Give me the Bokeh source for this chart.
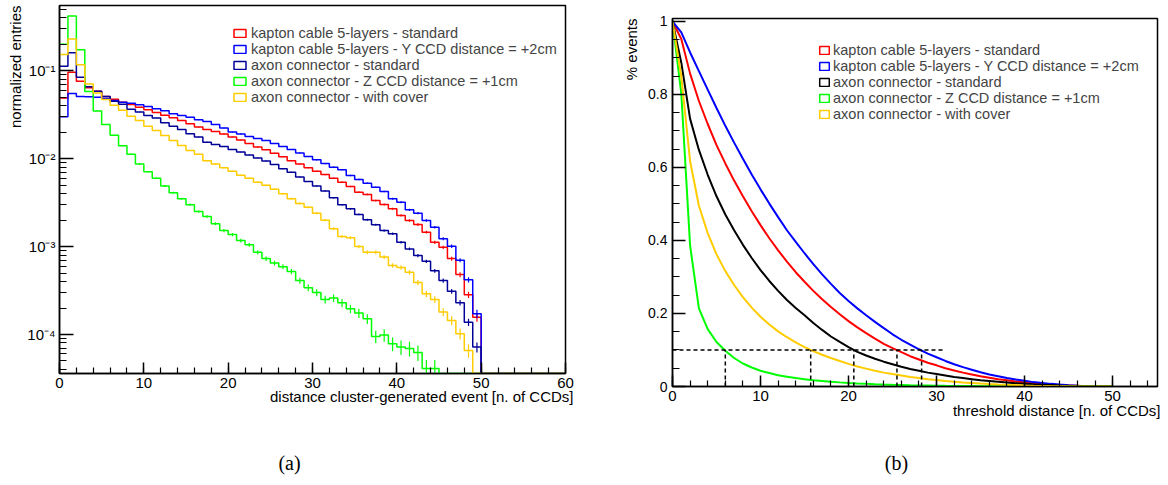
import math
from bokeh.plotting import figure
from bokeh.models import (Range1d, FixedTicker, CustomJSTickFormatter, Label, Title,
                          Legend, LegendItem)
from bokeh.layouts import row, column
from bokeh.embed import file_html
from bokeh.resources import INLINE

SANS = "Liberation Sans"
SERIF = "Liberation Serif"

# ---------------- data ----------------
series_labels = ["kapton cable 5-layers - standard",
                 "kapton cable 5-layers - Y CCD distance = +2cm",
                 "axon connector - standard",
                 "axon connector - Z CCD distance = +1cm",
                 "axon connector - with cover"]
colors_a = ["#ff0000", "#0000ff", "#000099", "#00ff00", "#ffcc00"]
colors_b = ["#ff0000", "#0000ff", "#000000", "#00ff00", "#ffcc00"]

n_bins = 60  # bins of width 1 from 0 to 60 (n. of CCDs)

hist_kapton_std = [
    0.049, 0.096, 0.076, 0.064, 0.0586, 0.051, 0.0475, 0.044, 0.0414, 0.0385,
    0.036, 0.0336, 0.0313, 0.0292, 0.0272, 0.025, 0.0229, 0.0215, 0.0204, 0.0191,
    0.0177, 0.0163, 0.0149, 0.0136, 0.0126, 0.0115, 0.0105, 0.0095, 0.0087, 0.0079,
    0.0072, 0.0066, 0.0060, 0.0054, 0.00483, 0.00416, 0.00392, 0.00334, 0.00301, 0.00269,
    0.00226, 0.00198, 0.00178, 0.00146, 0.00112, 0.00098, 0.00073, 0.00048, 0.000283, 0.000157]
hist_kapton_y2cm = [
    0.030, 0.055, 0.051, 0.0506, 0.050, 0.0484, 0.046, 0.044, 0.0428, 0.041,
    0.0392, 0.037, 0.0351, 0.0324, 0.031, 0.0296, 0.0277, 0.0265, 0.0245, 0.0223,
    0.0201, 0.0191, 0.0179, 0.0170, 0.0161, 0.0149, 0.0138, 0.0127, 0.0116, 0.0106,
    0.0097, 0.0088, 0.0080, 0.0075, 0.00644, 0.00580, 0.00526, 0.00474, 0.00424, 0.00350,
    0.00320, 0.00262, 0.00240, 0.00198, 0.00166, 0.00123, 0.00101, 0.00070, 0.00042, 0.000172]
hist_axon_std = [
    0.113, 0.16, 0.0846, 0.066, 0.0586, 0.051, 0.045, 0.0417, 0.0366, 0.0339,
    0.031, 0.029, 0.0256, 0.0234, 0.0215, 0.0192, 0.0176, 0.0154, 0.0145, 0.0138,
    0.0127, 0.0119, 0.0110, 0.0102, 0.0094, 0.0086, 0.0077, 0.0070, 0.0062, 0.0055,
    0.0049, 0.0043, 0.0036, 0.0030, 0.00269, 0.00232, 0.00202, 0.00177, 0.00152, 0.00140,
    0.00112, 0.00094, 0.00079, 0.00068, 0.00053, 0.00041, 0.00031, 0.00023, 0.000138, 0.0000718]
hist_axon_z1cm = [
    0.20, 0.42, 0.174, 0.058, 0.035, 0.0245, 0.0185, 0.014, 0.0112, 0.0087,
    0.0071, 0.006, 0.0049, 0.0041, 0.0035, 0.003, 0.0025, 0.0022, 0.00182, 0.00152,
    0.00137, 0.00117, 0.00105, 0.00086, 0.00073, 0.00065, 0.00059, 0.00052, 0.00041, 0.00034,
    0.00030, 0.00025, 0.00026, 0.00023, 0.000196, 0.000175, 0.000151, 0.0000948, 0.0000986, 0.0000783,
    0.0000718, 0.0000694, 0.0000624, 0.000041, 0.000041]
hist_axon_cover = [
    0.153, 0.23, 0.117, 0.071, 0.056, 0.047, 0.0406, 0.0355, 0.0305, 0.0272,
    0.0234, 0.0209, 0.0184, 0.0161, 0.0141, 0.0124, 0.0112, 0.0095, 0.0087, 0.0079,
    0.0072, 0.0065, 0.0060, 0.0054, 0.0050, 0.0045, 0.0040, 0.0035, 0.0031, 0.0028,
    0.0024, 0.0020, 0.0016, 0.0013, 0.00126, 0.00100, 0.00086, 0.00086, 0.00076, 0.00061,
    0.00058, 0.00051, 0.00039, 0.00029, 0.00025, 0.00018, 0.000144, 0.000102, 0.0000657]
# approximate number of entries of each histogram (sets the statistical error bars)
hist_entries = [5e5, 5e5, 8e5, 4e5, 5e5]

threshold = list(range(51))
frac_kapton_std = [1.0, 0.952, 0.857, 0.782, 0.719, 0.661, 0.611, 0.564, 0.521, 0.480,
                   0.442, 0.406, 0.373, 0.342, 0.313, 0.287, 0.262, 0.239, 0.218, 0.198,
                   0.179, 0.162, 0.146, 0.131, 0.117, 0.105, 0.094, 0.083, 0.074, 0.065,
                   0.058, 0.050, 0.044, 0.038, 0.033, 0.028, 0.024, 0.020, 0.017, 0.014,
                   0.011, 0.009, 0.007, 0.005, 0.004, 0.003, 0.002, 0.001, 0.0005, 0.0002, 0.0]
frac_kapton_y2cm = [1.0, 0.970, 0.915, 0.864, 0.813, 0.763, 0.714, 0.668, 0.624, 0.581,
                    0.540, 0.501, 0.464, 0.428, 0.396, 0.365, 0.335, 0.307, 0.281, 0.256,
                    0.234, 0.214, 0.195, 0.177, 0.160, 0.143, 0.128, 0.115, 0.102, 0.090,
                    0.080, 0.070, 0.061, 0.053, 0.046, 0.039, 0.033, 0.028, 0.023, 0.019,
                    0.0155, 0.012, 0.0096, 0.0072, 0.0052, 0.0036, 0.0023, 0.0013, 0.0006, 0.0002, 0.0]
frac_axon_std = [1.0, 0.887, 0.733, 0.648, 0.580, 0.521, 0.471, 0.428, 0.388, 0.352,
                 0.319, 0.289, 0.262, 0.237, 0.215, 0.195, 0.174, 0.155, 0.137, 0.122,
                 0.108, 0.095, 0.085, 0.076, 0.068, 0.061, 0.054, 0.048, 0.043, 0.038,
                 0.034, 0.030, 0.026, 0.023, 0.020, 0.017, 0.015, 0.013, 0.011, 0.009,
                 0.0075, 0.006, 0.005, 0.004, 0.003, 0.0022, 0.0015, 0.001, 0.0005, 0.0002, 0.0]
frac_axon_z1cm = [1.0, 0.802, 0.386, 0.214, 0.157, 0.122, 0.098, 0.078, 0.063, 0.052,
                  0.043, 0.037, 0.031, 0.027, 0.023, 0.020, 0.017, 0.015, 0.013, 0.0113,
                  0.0098, 0.0085, 0.0073, 0.0063, 0.0054, 0.0047, 0.0041, 0.0035, 0.0030, 0.0026,
                  0.0022, 0.0019, 0.0017, 0.0014, 0.0012, 0.0010, 0.0008, 0.0007, 0.0006, 0.0005,
                  0.0004, 0.0003, 0.0002, 0.0001, 0.00004, 0.0, 0.0, 0.0, 0.0, 0.0, 0.0]
frac_axon_cover = [1.0, 0.849, 0.617, 0.495, 0.420, 0.362, 0.316, 0.278, 0.245, 0.216,
                   0.191, 0.170, 0.151, 0.135, 0.121, 0.108, 0.097, 0.087, 0.078, 0.070,
                   0.062, 0.055, 0.049, 0.043, 0.038, 0.034, 0.030, 0.026, 0.023, 0.020,
                   0.018, 0.015, 0.013, 0.011, 0.0095, 0.008, 0.0068, 0.0057, 0.0047, 0.0038,
                   0.0030, 0.0023, 0.0017, 0.0012, 0.0008, 0.0005, 0.0003, 0.0002, 0.0001, 0.0, 0.0]

# 10% threshold level and where each curve crosses it
level_10pct = 0.1
level_line_x = [0, 31]
crossing_x = [25.5, 28.3, 20.6, 6.0, 15.7]

hists = [hist_kapton_std, hist_kapton_y2cm, hist_axon_std, hist_axon_z1cm, hist_axon_cover]
fracs = [frac_kapton_std, frac_kapton_y2cm, frac_axon_std, frac_axon_z1cm, frac_axon_cover]


def style_axes(p, tick_sizes, label_sizes):
    for ax, (t_maj, t_min), size in zip([p.xaxis[0], p.yaxis[0]], tick_sizes, label_sizes):
        ax.major_tick_in = t_maj
        ax.minor_tick_in = t_min
        ax.major_tick_out = 0
        ax.minor_tick_out = 0
        ax.axis_line_width = 1.5
        ax.major_tick_line_width = 1.5
        ax.minor_tick_line_width = 1.2
        ax.major_label_text_font = SANS
        ax.major_label_text_font_size = size
        ax.major_label_text_color = "black"


def axis_title(p, text, side, standoff, offset=0):
    p.add_layout(Title(text=text, align="right", text_font=SANS, text_font_size="15px",
                       text_font_style="normal", text_color="black", standoff=standoff,
                       offset=offset), side)


def caption_fig(width, height, text, x):
    c = figure(width=width, height=height, output_backend="svg", toolbar_location=None,
               x_range=Range1d(0, 1), y_range=Range1d(0, 1),
               x_axis_location=None, y_axis_location=None,
               min_border=0, outline_line_color=None, frame_align=False)
    c.grid.visible = False
    c.add_layout(Label(x=x, y=height / 2, x_units="screen", y_units="screen", text=text,
                       text_align="center", text_baseline="middle", text_font=SERIF,
                       text_font_size="20px", text_color="black"))
    return c


PLOT_H, CAP_H = 440, 44

# ---------------- panel (a) ----------------
ymin_a, ymax_a = 10 ** -4.444, 10 ** -0.257
W1 = 608
p1 = figure(width=W1, height=PLOT_H, output_backend="svg", toolbar_location=None,
            x_range=Range1d(0, 60), y_range=Range1d(ymin_a, ymax_a), y_axis_type="log",
            min_border_left=59, min_border_right=43, min_border_top=5, min_border_bottom=67,
            frame_align=False)
p1.grid.visible = False
p1.outline_line_color = "black"
p1.outline_line_width = 1.5

edges = list(range(n_bins + 1))
for vals, col, n_ent in zip(hists, colors_a, hist_entries):
    full = list(vals) + [0.0] * (n_bins - len(vals))
    ys = [v if v > 0 else ymin_a for v in full]
    p1.step(x=edges, y=ys + [ys[-1]], mode="after", line_color=col, line_width=1.5)
    ex, e0, e1 = [], [], []
    for i, v in enumerate(full):
        if v > 0:
            err = math.sqrt(v / n_ent)
            ex.append(i + 0.5)
            e0.append(max(v - err, ymin_a))
            e1.append(v + err)
    p1.segment(x0=ex, y0=e0, x1=ex, y1=e1, line_color=col, line_width=1.2)

# legend swatches: outlined boxes (placeholder geometry lies outside the visible x range)
items = []
for lab, col in zip(series_labels, colors_a):
    r = p1.quad(left=[-3], right=[-2], top=[ymax_a], bottom=[ymin_a], fill_alpha=0,
                line_color=col, line_width=1.5)
    items.append(LegendItem(label=lab, renderers=[r]))
leg1 = Legend(items=items, location=(173, 268), padding=0, margin=0, spacing=0,
              glyph_width=15, glyph_height=10, label_height=15, label_standoff=4,
              label_text_font=SANS, label_text_font_size="14.5px",
              border_line_alpha=0, background_fill_alpha=0)
p1.add_layout(leg1)

p1.xaxis.ticker = FixedTicker(ticks=list(range(0, 61, 10)), minor_ticks=list(range(0, 61, 2)))
minor_log = [m * 10.0 ** e for e in range(-5, 0) for m in range(2, 10)
             if ymin_a <= m * 10.0 ** e <= ymax_a]
p1.yaxis.ticker = FixedTicker(ticks=[1e-4, 1e-3, 1e-2, 1e-1], minor_ticks=minor_log)
p1.yaxis.formatter = CustomJSTickFormatter(code="""
const e = Math.round(Math.log10(tick));
const sup = {"-": "\\u207b", "0": "\\u2070", "1": "\\u00b9", "2": "\\u00b2", "3": "\\u00b3",
             "4": "\\u2074", "5": "\\u2075", "6": "\\u2076", "7": "\\u2077", "8": "\\u2078", "9": "\\u2079"};
return "10" + String(e).split("").map(c => sup[c]).join("");
""")
style_axes(p1, [(11, 6), (14, 7)], ["15px", "15px"])
p1.xaxis.major_label_standoff = 4
p1.yaxis.major_label_standoff = 4

axis_title(p1, "normalized entries", "left", 2)
axis_title(p1, "distance cluster-generated event [n. of CCDs]", "below", -10, offset=-8)

# ---------------- panel (b) ----------------
W2 = 560
p2 = figure(width=W2, height=PLOT_H, output_backend="svg", toolbar_location=None,
            x_range=Range1d(0, 55.1), y_range=Range1d(0, 1.008),
            min_border_left=64, min_border_right=11, min_border_top=18, min_border_bottom=54,
            frame_align=False)
p2.grid.visible = False
p2.outline_line_color = "black"
p2.outline_line_width = 1.5

for fr, col in zip(fracs, colors_b):
    p2.line(threshold, fr, line_color=col, line_width=2)

p2.line(level_line_x, [level_10pct, level_10pct], line_color="black",
        line_width=1.5, line_dash="4 3")
p2.segment(x0=crossing_x, y0=[0] * len(crossing_x), x1=crossing_x,
           y1=[level_10pct] * len(crossing_x), line_color="black",
           line_width=1.5, line_dash="4 3")

items2 = []
for lab, col in zip(series_labels, colors_b):
    r = p2.quad(left=[-3], right=[-2], top=[1], bottom=[0], fill_alpha=0,
                line_color=col, line_width=1.5)
    items2.append(LegendItem(label=lab, renderers=[r]))
leg2 = Legend(items=items2, location=(146, 264), padding=0, margin=0, spacing=0,
              glyph_width=12, glyph_height=10, label_height=15, label_standoff=3,
              label_text_font=SANS, label_text_font_size="14.5px",
              border_line_alpha=0, background_fill_alpha=0)
p2.add_layout(leg2)

p2.xaxis.ticker = FixedTicker(ticks=list(range(0, 51, 10)), minor_ticks=list(range(0, 56, 2)))
p2.yaxis.ticker = FixedTicker(ticks=[0, 0.2, 0.4, 0.6, 0.8, 1.0],
                              minor_ticks=[k * 0.05 for k in range(21)])
p2.yaxis.formatter = CustomJSTickFormatter(code="return String(Math.round(tick * 10) / 10);")
style_axes(p2, [(11, 6), (13, 7)], ["15px", "14px"])
p2.xaxis.major_label_standoff = 4
p2.yaxis.major_label_standoff = 5

axis_title(p2, "% events", "left", 12)
axis_title(p2, "threshold distance [n. of CCDs]", "below", -8, offset=-3)

# ---------------- captions ----------------
cap_a = caption_fig(W1, CAP_H, "(a)", 289)
cap_b = caption_fig(W2, CAP_H, "(b)", 288)

layout = column(row(p1, p2), row(cap_a, cap_b))
open("out.html", "w").write(file_html(layout, INLINE))
